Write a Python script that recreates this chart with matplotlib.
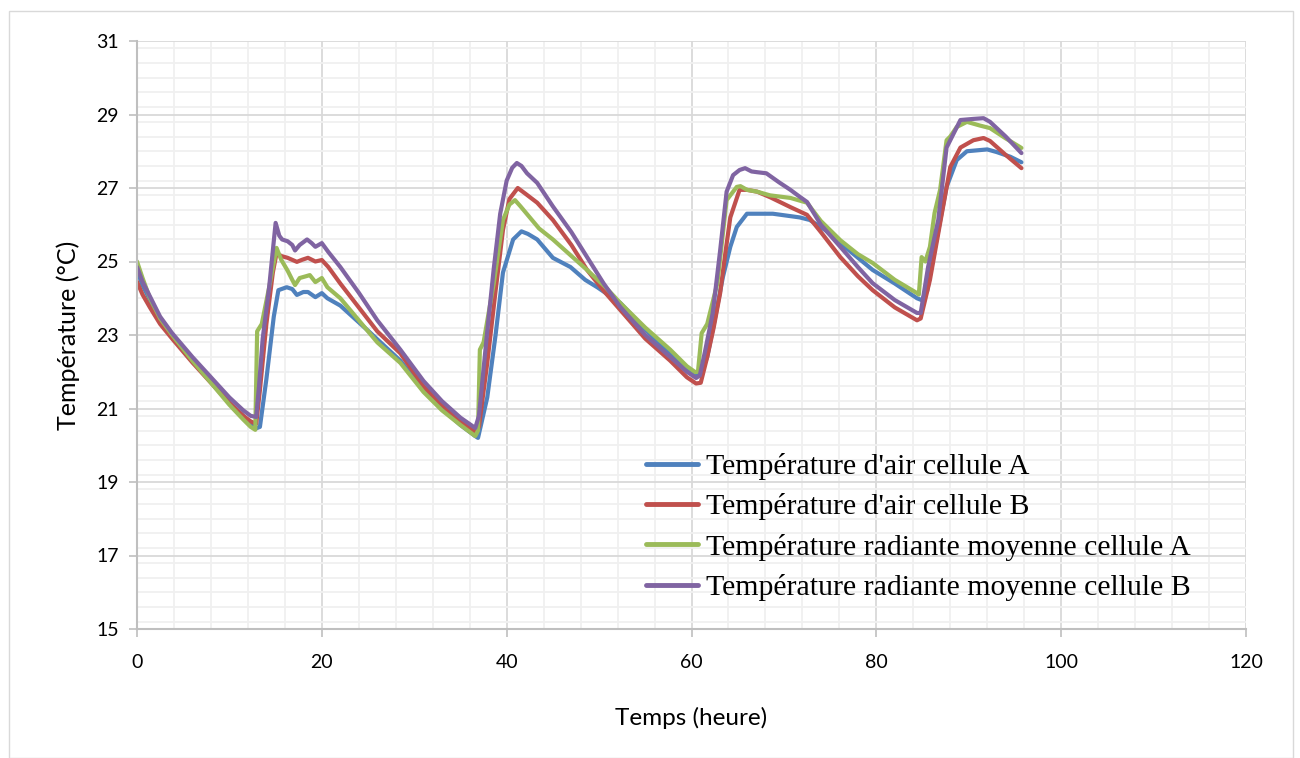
import matplotlib
matplotlib.use("Agg")
import matplotlib.pyplot as plt
from matplotlib.patches import Rectangle
from matplotlib.ticker import MultipleLocator

# ---------------- data ----------------
labels = ["Température d'air cellule A",
          "Température d'air cellule B",
          "Température radiante moyenne cellule A",
          "Température radiante moyenne cellule B"]

t_air_a = [0, 0.6, 1.4, 2.5, 3.8, 6, 8, 10, 11.5, 12.3, 12.8, 13.3, 14, 14.8, 15.3, 16.2, 16.8, 17.3, 18.0,
           18.5, 19.3, 20.0, 20.6, 22, 24.9, 28.5, 31, 33, 35, 36.6, 36.9, 37.9, 38.8, 39.6, 40.7, 41.6, 42.3,
           43.3, 45, 46.9, 48.5, 49.8, 52.3, 55, 57.7, 59.5, 60.5, 61.0, 61.7, 62.5, 63.4, 64.2, 64.9, 66, 68.8,
           71.7, 72.8, 74.5, 76.1, 79.6, 82, 84.4, 84.9, 85.5, 86.1, 87.6, 88.7, 89.8, 92, 93, 94.5, 95.7]
v_air_a = [24.75, 24.35, 23.95, 23.45, 23.0, 22.35, 21.75, 21.15, 20.8, 20.6, 20.45, 20.5, 21.8, 23.5, 24.22,
           24.3, 24.25, 24.09, 24.17, 24.17, 24.03, 24.14, 24.0, 23.8, 23.14, 22.3, 21.5, 21.0, 20.55, 20.25,
           20.2, 21.3, 23.0, 24.7, 25.6, 25.82, 25.75, 25.6, 25.1, 24.85, 24.5, 24.3, 23.87, 23.15, 22.5, 22.05,
           21.9, 21.95, 22.4, 23.4, 24.58, 25.4, 25.94, 26.3, 26.3, 26.2, 26.13, 25.85, 25.5, 24.77, 24.4, 24.0,
           23.95, 24.2, 25.04, 27.03, 27.76, 28.0, 28.05, 27.98, 27.85, 27.7]

t_air_b = [0, 0.6, 1.4, 2.5, 3.8, 6, 8, 10, 11.5, 12.3, 12.9, 13.3, 14.0, 14.7, 15.1, 15.6, 16.3, 17.3, 17.9,
           18.5, 19.3, 20, 20.7, 22, 24, 26, 28.5, 31, 33, 35, 36.6, 37.0, 37.9, 38.8, 39.6, 40.3, 41.2, 42.0,
           43.3, 45, 47, 48.7, 50.5, 52.3, 55, 57.7, 59.5, 60.5, 61.0, 61.7, 62.4, 63.1, 63.7, 64.2, 65.2, 66,
           67.1, 68.5, 70.7, 72.5, 74, 76.1, 78, 79.6, 82, 84.4, 84.8, 85.8, 86.9, 88.0, 89.1, 90.5, 91.6, 92.3,
           94, 95.7]
v_air_b = [24.45, 24.1, 23.75, 23.3, 22.9, 22.25, 21.7, 21.15, 20.8, 20.65, 20.58, 21.5, 23.3, 24.7, 25.23,
           25.15, 25.1, 24.99, 25.05, 25.1, 25.0, 25.04, 24.85, 24.4, 23.75, 23.1, 22.5, 21.6, 21.1, 20.65, 20.36,
           20.5, 22.24, 24.2, 25.86, 26.7, 27.0, 26.85, 26.6, 26.13, 25.45, 24.77, 24.2, 23.68, 22.9, 22.3, 21.85,
           21.68, 21.7, 22.4, 23.2, 24.14, 25.3, 26.2, 26.95, 26.95, 26.9, 26.75, 26.48, 26.27, 25.8, 25.12, 24.6,
           24.22, 23.75, 23.4, 23.45, 24.5, 26.04, 27.57, 28.1, 28.3, 28.36, 28.28, 27.9, 27.54]

t_rad_a = [0, 0.6, 1.4, 2.5, 3.8, 6, 8, 10, 11.5, 12.3, 12.8, 13.0, 13.5, 14.3, 15.1, 15.6, 16.3, 16.8, 17.1,
           17.6, 18.3, 18.7, 19.3, 20, 20.6, 22, 24, 26, 28.5, 31, 33, 35, 36.6, 36.9, 37.1, 37.5, 38.6, 39.6,
           40.3, 40.9, 41.5, 42.5, 43.5, 45, 47, 48.7, 50.7, 52.3, 55, 57.7, 59.5, 60.4, 60.7, 61.1, 61.7, 62.8,
           63.8, 64.9, 65.3, 66, 67.1, 68.5, 70.7, 72.5, 74, 76.1, 78, 79.6, 82, 84.4, 84.6, 84.9, 85.3, 85.8,
           86.3, 86.9, 87.6, 88.0, 88.7, 89.8, 91.2, 92.3, 94, 95.7]
v_rad_a = [25.0, 24.55, 24.0, 23.45, 23.0, 22.3, 21.7, 21.1, 20.7, 20.5, 20.42, 23.1, 23.3, 24.3, 25.37, 25.05,
           24.75, 24.5, 24.36, 24.55, 24.6, 24.63, 24.44, 24.55, 24.3, 24.0, 23.4, 22.8, 22.24, 21.45, 20.95,
           20.55, 20.25, 20.4, 22.6, 22.8, 24.4, 26.13, 26.55, 26.67, 26.5, 26.2, 25.9, 25.6, 25.15, 24.77, 24.3,
           23.87, 23.2, 22.6, 22.15, 21.99, 22.0, 23.05, 23.3, 24.41, 26.67, 27.03, 27.05, 26.95, 26.9, 26.8,
           26.73, 26.6, 26.1, 25.58, 25.2, 24.96, 24.5, 24.14, 24.1, 25.12, 25.0, 25.4, 26.32, 26.95, 28.3, 28.4,
           28.66, 28.8, 28.7, 28.63, 28.35, 28.09]

t_rad_b = [0, 0.6, 1.4, 2.5, 3.8, 6, 8, 10, 11.5, 12.3, 12.9, 13.2, 13.6, 14.3, 15.0, 15.4, 15.7, 16.3, 16.8,
           17.1, 17.6, 18.4, 18.9, 19.3, 20.0, 20.7, 22, 24, 26, 28.5, 31, 33, 35, 36.6, 37.0, 37.9, 38.6, 39.3,
           40.0, 40.6, 41.1, 41.6, 42.2, 43.3, 45, 47, 48.7, 50.5, 52.3, 55, 57.7, 59.5, 60.5, 60.9, 61.5, 62.3,
           63.1, 63.8, 64.5, 65.2, 65.8, 66.5, 67.1, 68.1, 69.5, 70.7, 71.5, 72.5, 74, 76.1, 78, 79.6, 82, 84.4,
           84.8, 85.6, 86.7, 87.6, 88.2, 89.1, 90.5, 91.6, 92.3, 94, 95.7]
v_rad_b = [24.85, 24.45, 24.05, 23.5, 23.05, 22.4, 21.85, 21.3, 20.95, 20.8, 20.77, 21.6, 22.9, 24.3, 26.05,
           25.7, 25.6, 25.55, 25.45, 25.3, 25.45, 25.6, 25.5, 25.4, 25.5, 25.26, 24.85, 24.15, 23.4, 22.6, 21.75,
           21.2, 20.75, 20.47, 20.8, 23.1, 24.8, 26.3, 27.2, 27.55, 27.68, 27.6, 27.4, 27.14, 26.5, 25.8, 25.12,
           24.4, 23.76, 23.0, 22.4, 22.0, 21.83, 21.9, 22.6, 23.6, 25.3, 26.9, 27.35, 27.49, 27.54, 27.45, 27.43,
           27.4, 27.15, 26.95, 26.8, 26.62, 26.0, 25.4, 24.85, 24.41, 23.95, 23.6, 23.6, 24.85, 26.13, 28.1, 28.4,
           28.85, 28.88, 28.9, 28.8, 28.4, 27.95]

x_ticks = [0, 20, 40, 60, 80, 100, 120]
y_ticks = [15, 17, 19, 21, 23, 25, 27, 29, 31]

colors = ["#4F81BD", "#C0504D", "#9BBB59", "#8064A2"]

# ---------------- figure ----------------
W, H = 1300, 758
fig = plt.figure(figsize=(W / 100, H / 100), dpi=100)
fig.patch.set_facecolor("white")
fig.patches.append(Rectangle((9 / W, 0), (1293 - 9) / W, 1 - 11 / H, transform=fig.transFigure,
                             fill=False, edgecolor="#d9d9d9", linewidth=1.0))

ax = fig.add_axes([137 / W, 1 - 629 / H, (1246 - 137) / W, (629 - 41) / H])

series = [(t_air_a, v_air_a), (t_air_b, v_air_b), (t_rad_a, v_rad_a), (t_rad_b, v_rad_b)]
for (tt, vv), c, lab in zip(series, colors, labels):
    ax.plot(tt, vv, color=c, lw=3.0, label=lab, solid_joinstyle="round", solid_capstyle="round")

ax.set_xlim(0, 120)
ax.set_ylim(15, 31)
ax.set_xticks(x_ticks)
ax.set_yticks(y_ticks)
ax.xaxis.set_minor_locator(MultipleLocator(4))
ax.yaxis.set_minor_locator(MultipleLocator(0.4))
ax.grid(which="major", color="#d9d9d9", lw=1.3)
ax.grid(which="minor", color="#f0f0f0", lw=1.3)
ax.set_axisbelow(True)

for s in ["top", "right"]:
    ax.spines[s].set_visible(False)
for s in ["left", "bottom"]:
    ax.spines[s].set_color("#bfbfbf")
    ax.spines[s].set_linewidth(1.5)

ax.tick_params(which="major", length=6, width=1.2, color="#bfbfbf", labelsize=14, labelcolor="black")
ax.tick_params(which="minor", length=0)
ax.tick_params(axis="y", pad=7)
ax.tick_params(axis="x", pad=12)
for lab in ax.get_xticklabels() + ax.get_yticklabels():
    lab.set_family("Lato")

ax.set_ylabel("Température (°C)", fontsize=18, family="Lato", labelpad=12)
ax.set_xlabel("Temps (heure)", fontsize=17.5, family="Lato", labelpad=26)

leg = ax.legend(loc="upper left", bbox_to_anchor=(646 / W, 1 - 453 / H), bbox_transform=fig.transFigure,
                frameon=False, prop={"family": "Liberation Serif", "size": 21.5},
                handlelength=1.75, handletextpad=0.25, labelspacing=0.45, borderpad=0, borderaxespad=0)
for l in leg.get_lines():
    l.set_linewidth(3.5)

fig.savefig("out.png", dpi=100)
